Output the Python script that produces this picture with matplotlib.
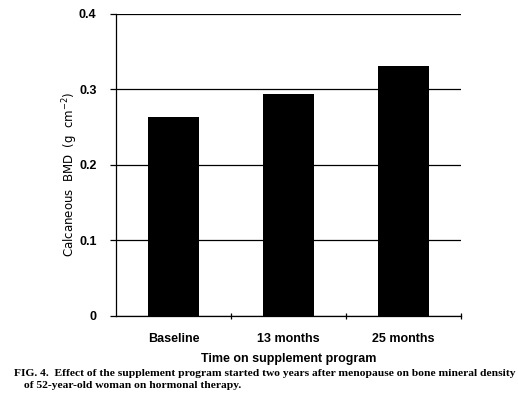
import numpy as np
import matplotlib
matplotlib.use("Agg")
import matplotlib.pyplot as plt

categories = ["Baseline", "13 months", "25 months"]
bmd = [0.263, 0.294, 0.331]
yticks = [0, 0.1, 0.2, 0.3, 0.4]
ytick_labels = ["0", "0.1", "0.2", "0.3", "0.4"]

fig = plt.figure(figsize=(5.18, 3.95), dpi=100)
ax = fig.add_axes([0.224, 0.2, 0.666, 0.7646])

x = np.arange(len(categories))
ax.bar(x, bmd, width=0.45, color="black", zorder=3)

ax.set_xlim(-0.5, len(categories) - 0.5)
ax.set_ylim(0, 0.4)
ax.set_yticks(yticks)
ax.set_yticklabels(ytick_labels, fontsize=9, fontweight="bold", family="Liberation Sans")
ax.yaxis.grid(True, color="black", lw=0.9, zorder=0)

# boundary ticks between categories, labels centred under bars
ax.set_xticks(x + 0.5)
ax.set_xticklabels([])
ax.set_xticks(x, minor=True)
ax.set_xticklabels(categories, minor=True, fontsize=9, fontweight="bold", family="Liberation Sans")
ax.tick_params(axis="x", which="minor", length=0, pad=12)
ax.tick_params(axis="x", which="major", length=5, width=0.9, direction="inout")
ax.tick_params(axis="y", length=4, width=0.9, direction="out", pad=10)

for s in ["top", "right"]:
    ax.spines[s].set_visible(False)
for s in ["left", "bottom"]:
    ax.spines[s].set_linewidth(0.9)

ax.set_xlabel("Time on supplement program", fontsize=9, fontweight="bold",
              family="Liberation Sans", labelpad=6)
ax.set_ylabel("Calcaneous  BMD  (g  cm$^{-2}$)", fontsize=8.5, family="Liberation Sans Narrow")
ax.yaxis.set_label_coords(-0.103, 0.47)

fig.text(0.027, 0.047, "FIG. 4.  Effect of the supplement program started two years after menopause on bone mineral density",
         fontsize=8.25, fontweight="bold", family="Liberation Serif", ha="left")
fig.text(0.046, 0.017, "of 52-year-old woman on hormonal therapy.",
         fontsize=8.25, fontweight="bold", family="Liberation Serif", ha="left")

fig.savefig("out.png", dpi=100)
